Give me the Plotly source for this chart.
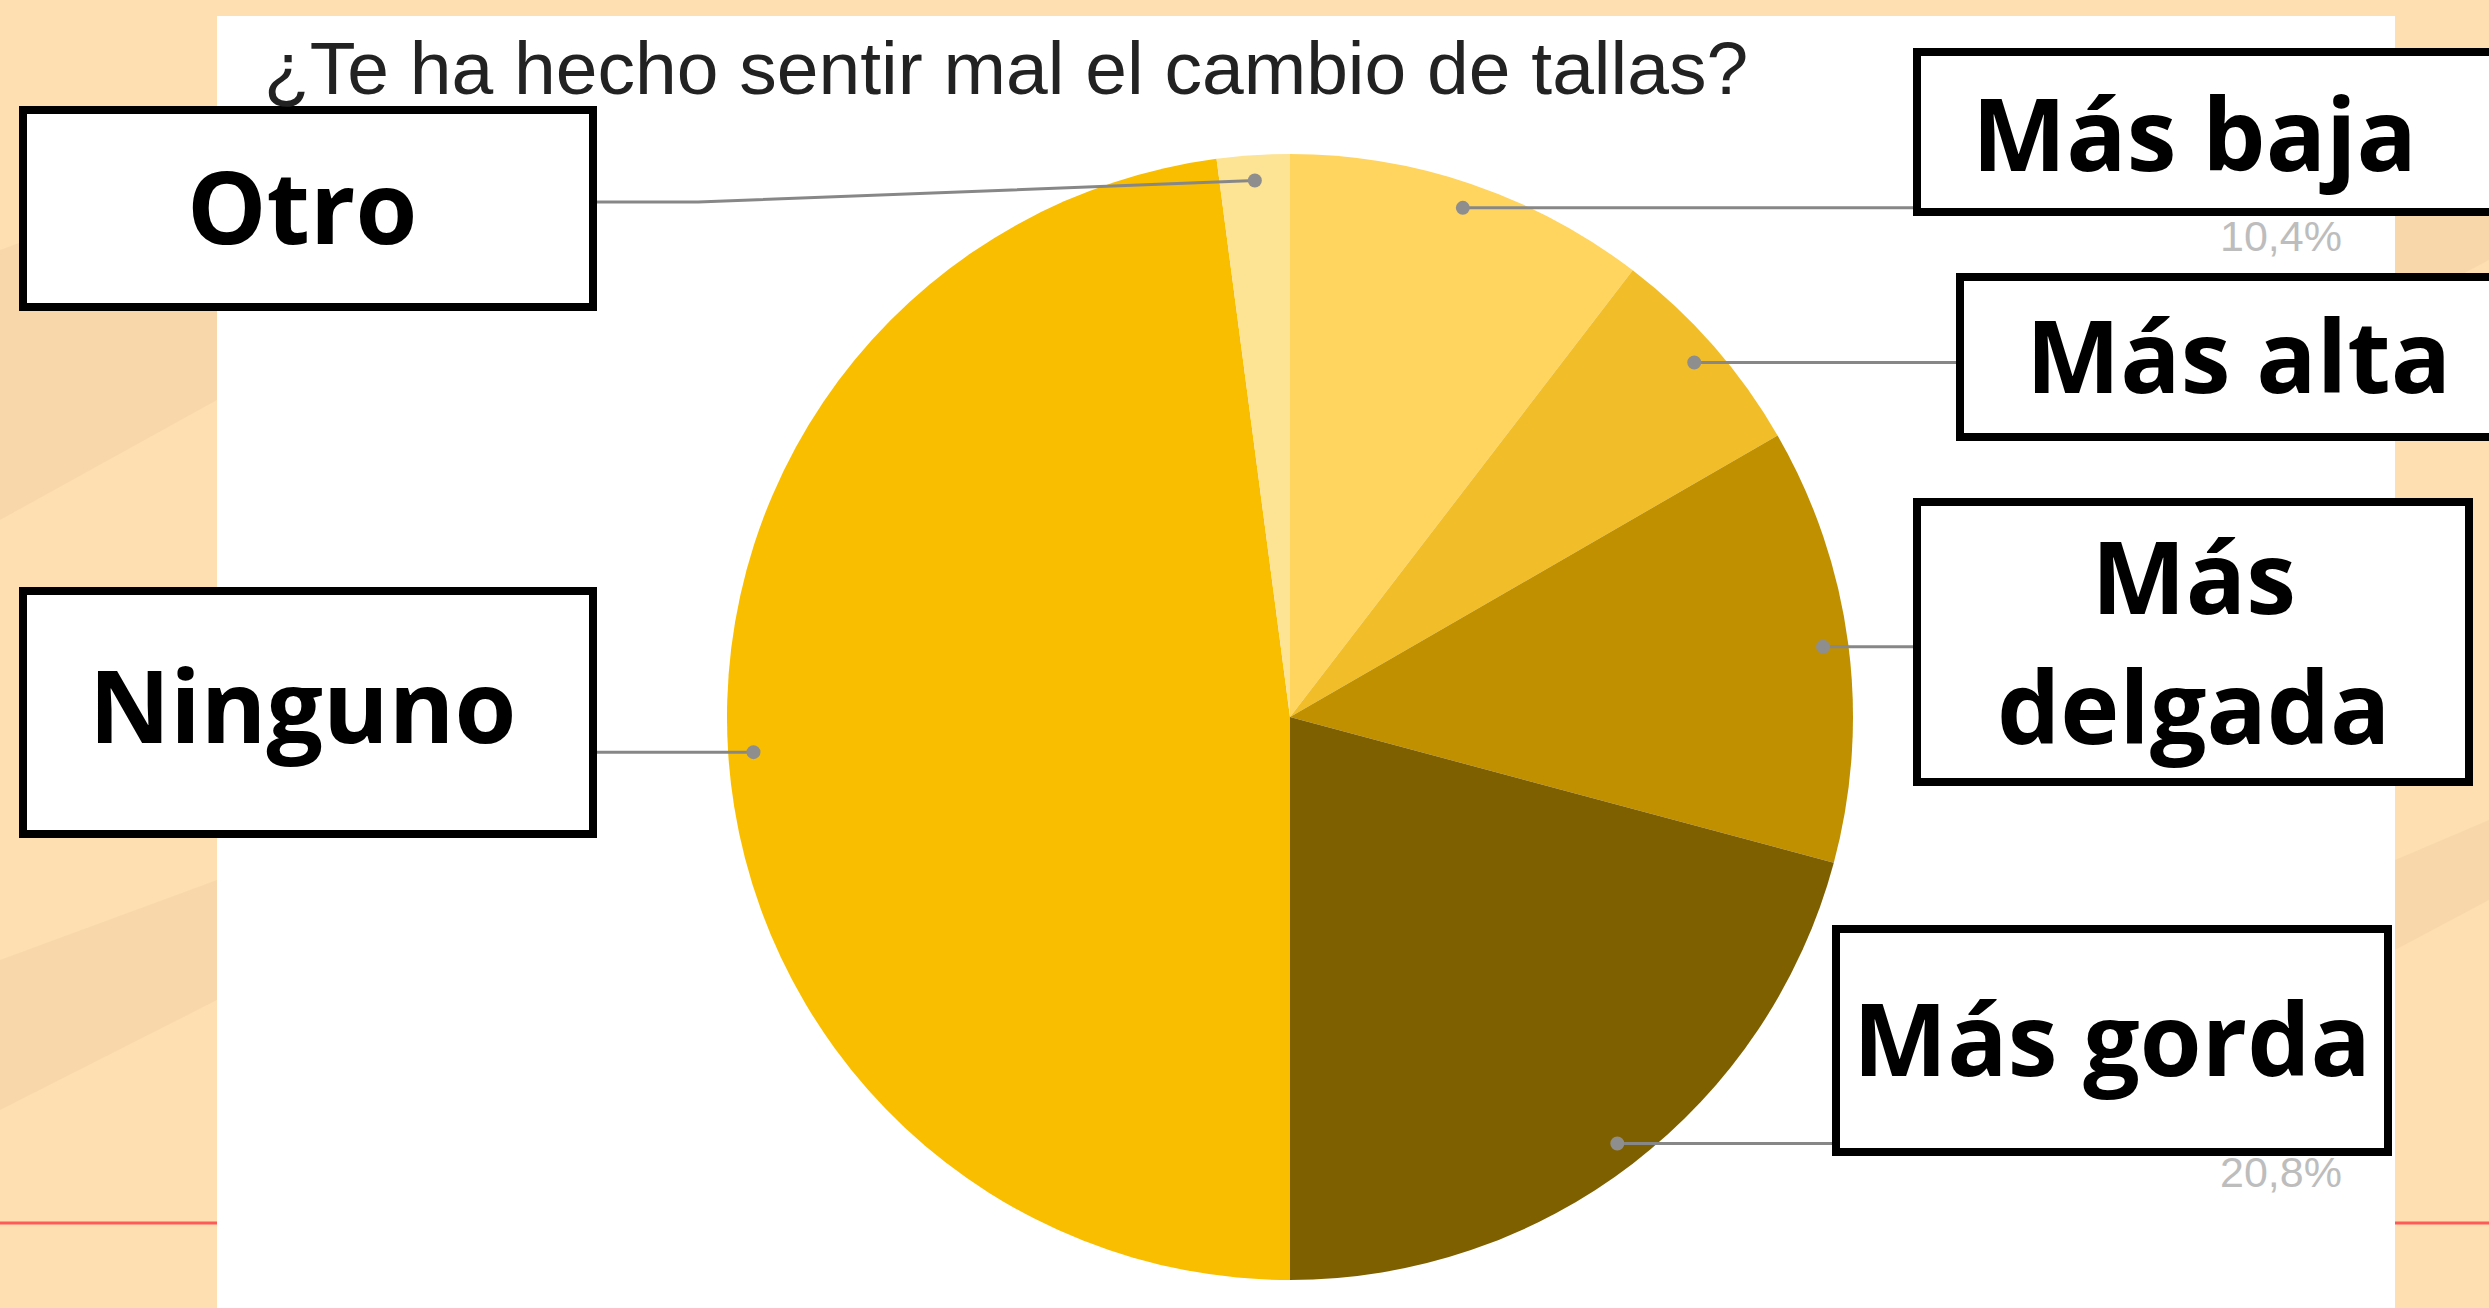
import math
import plotly.graph_objects as go

# ---------------- data ----------------
title_text = "¿Te ha hecho sentir mal el cambio de tallas?"
labels = ["Más baja", "Más alta", "Más delgada", "Más gorda", "Ninguno", "Otro"]
values = [5, 3, 6, 10, 23, 1]
box_labels = ["Más baja", "Más alta", "Más<br>delgada", "Más gorda", "Ninguno", "Otro"]
pct_shown = ["Más baja", "Más gorda"]

# ---------------- styles / layout ----------------
slice_colors = ["#FFD55F", "#F1BE2A", "#C09000", "#7F6000", "#F9BE00", "#FDE394"]
W, H = 2489, 1308
CX, CY, R = 1290, 717, 563          # pie centre / radius in pixels
DOT_R = 0.955                       # leader dot radius (fraction of R)

# label boxes: x0, y0, x1, y1 (pixels, top-left origin), text centre
boxes = {
    "Más baja":    dict(box=(1913, 48, 2510, 216),  text=(2194, 132), bend=None),
    "Más alta":    dict(box=(1956, 273, 2510, 441), text=(2238, 354), bend=None),
    "Más delgada": dict(box=(1913, 498, 2473, 786), text=(2193, 640), bend=None),
    "Más gorda":   dict(box=(1832, 925, 2392, 1156), text=(2112, 1037), bend=None),
    "Ninguno":     dict(box=(19, 587, 597, 838),    text=(302, 704), bend=None),
    "Otro":        dict(box=(19, 106, 597, 311),    text=(302, 205), bend=(698, 202)),
}
pct_pos = {"Más baja": (2281, 236), "Más gorda": (2281, 1172)}


def px(x):
    return x / W


def py(y):
    return 1 - y / H


fig = go.Figure()

fig.add_trace(go.Pie(
    labels=labels,
    values=values,
    sort=False,
    direction="clockwise",
    rotation=0,
    marker=dict(colors=slice_colors, line=dict(width=0)),
    textinfo="none",
    hoverinfo="label+percent",
    showlegend=False,
    domain=dict(x=[px(CX - R), px(CX + R)], y=[py(CY + R), py(CY - R)]),
))

shapes = []

# soft background shading on the peach strips
for pts in [
    [(0, 250), (217, 170), (217, 400), (0, 520)],
    [(0, 960), (217, 880), (217, 1000), (0, 1110)],
    [(2395, 150), (2489, 110), (2489, 260), (2395, 310)],
    [(2395, 860), (2489, 820), (2489, 900), (2395, 950)],
]:
    path = "M " + " L ".join(f"{px(x)},{py(y)}" for x, y in pts) + " Z"
    shapes.append(dict(type="path", xref="paper", yref="paper", path=path,
                       fillcolor="rgba(215,175,120,0.12)", line=dict(width=0), layer="below"))

# white panel
shapes.append(dict(type="rect", xref="paper", yref="paper",
                   x0=px(217), x1=px(2395), y0=py(1308), y1=py(16),
                   fillcolor="white", line=dict(width=0), layer="below"))
# red guide lines on the strips
for x0, x1 in [(0, 217), (2395, 2489)]:
    shapes.append(dict(type="line", xref="paper", yref="paper",
                       x0=px(x0), x1=px(x1), y0=py(1223), y1=py(1223),
                       line=dict(color="#FF5A5A", width=3), layer="below"))

# leader lines and dots computed from slice mid-angles
total = sum(values)
cum = 0
annotations = []
for lab, v in zip(labels, values):
    mid = (cum + v / 2) / total * 2 * math.pi
    cum += v
    dx = CX + DOT_R * R * math.sin(mid)
    dy = CY - DOT_R * R * math.cos(mid)
    b = boxes[lab]
    x0, y0, x1, y1 = b["box"]
    edge_x = x0 if dx < x0 else x1
    if b["bend"] is not None:
        bx, by = b["bend"]
        pts = [(dx, dy), (bx, by), (edge_x, by)]
    else:
        pts = [(dx, dy), (edge_x, dy)]
    path = "M " + " L ".join(f"{px(x)},{py(y)}" for x, y in pts)
    shapes.append(dict(type="path", xref="paper", yref="paper", path=path,
                       line=dict(color="#878787", width=3), layer="above"))
    rr = 7
    shapes.append(dict(type="circle", xref="paper", yref="paper",
                       x0=px(dx - rr), x1=px(dx + rr), y0=py(dy + rr), y1=py(dy - rr),
                       fillcolor="#8E8E8E", line=dict(width=0), layer="above"))

# percentage labels peeking below boxes
for lab, v in zip(labels, values):
    if lab in pct_shown:
        x, y = pct_pos[lab]
        annotations.append(dict(
            x=px(x), y=py(y), xref="paper", yref="paper", showarrow=False,
            text=f"{v / total * 100:.1f}%".replace(".", ","),
            font=dict(family="Liberation Sans, Arial", size=43, color="#BDBDBD"),
            xanchor="center", yanchor="middle"))

# label boxes
for lab, bl in zip(labels, box_labels):
    b = boxes[lab]
    x0, y0, x1, y1 = b["box"]
    lw = 8
    shapes.append(dict(type="rect", xref="paper", yref="paper",
                       x0=px(x0 + lw / 2), x1=px(x1 - lw / 2),
                       y0=py(y1 - lw / 2), y1=py(y0 + lw / 2),
                       fillcolor="white", line=dict(color="black", width=lw), layer="above"))
    tx, ty = b["text"]
    annotations.append(dict(
        x=px(tx), y=py(ty), xref="paper", yref="paper", showarrow=False,
        text=f"<b>{bl}</b>",
        font=dict(family="Open Sans, Noto Sans, DejaVu Sans", size=100, color="black"),
        xanchor="center", yanchor="middle", align="center"))

# chart title
annotations.append(dict(
    x=px(262), y=py(68), xref="paper", yref="paper", showarrow=False,
    text=title_text,
    font=dict(family="Liberation Sans, Arial", size=75, color="#222222"),
    xanchor="left", yanchor="middle"))

fig.update_layout(
    width=W, height=H,
    margin=dict(l=0, r=0, t=0, b=0),
    paper_bgcolor="#FDDFB2",
    plot_bgcolor="#FDDFB2",
    shapes=shapes,
    annotations=annotations,
    showlegend=False,
)

fig.write_html(
    "out.html",
    config={"displayModeBar": False},
    post_script="document.body.style.margin='0';document.body.style.overflow='hidden';",
)
